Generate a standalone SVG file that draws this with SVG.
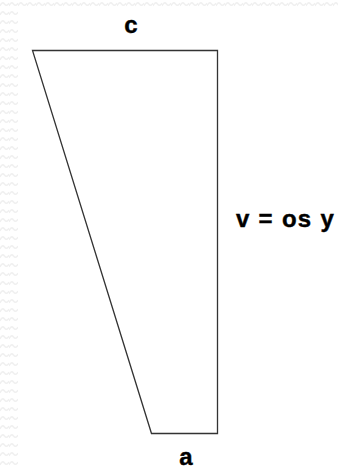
<svg xmlns="http://www.w3.org/2000/svg" width="338" height="470" viewBox="0 0 338 470">
<style>
.lbl{font-family:"Liberation Sans",Arial,sans-serif;font-weight:bold;font-size:24px;fill:#000;stroke:#000;stroke-width:0.4}
.edge{fill:none;stroke:#333;stroke-width:1.3;stroke-linejoin:miter}
</style>
<defs>
<pattern id="zz" width="9" height="9" patternUnits="userSpaceOnUse">
<path d="M0,6 Q2.25,1 4.5,4 T9,3" fill="none" stroke="#f0f0f0" stroke-width="1.5"/>
</pattern>
</defs>
<rect width="338" height="470" fill="#fff"/>
<rect x="0" y="0" width="18" height="470" fill="url(#zz)"/>
<rect x="18" y="0" width="320" height="7" fill="url(#zz)"/>
<g id="trapezoid">
<path class="edge" d="M32.5,50.5 L217.5,50.5 L217.5,433.5 L151.5,433.5 Z"/>
</g>
<g id="label-c"><text class="lbl" x="131" y="33" text-anchor="middle">c</text></g>
<g id="label-v"><text class="lbl" x="236" y="227" letter-spacing="1.3">v = os y</text></g>
<g id="label-a"><text class="lbl" x="186" y="465" text-anchor="middle">a</text></g>
</svg>
